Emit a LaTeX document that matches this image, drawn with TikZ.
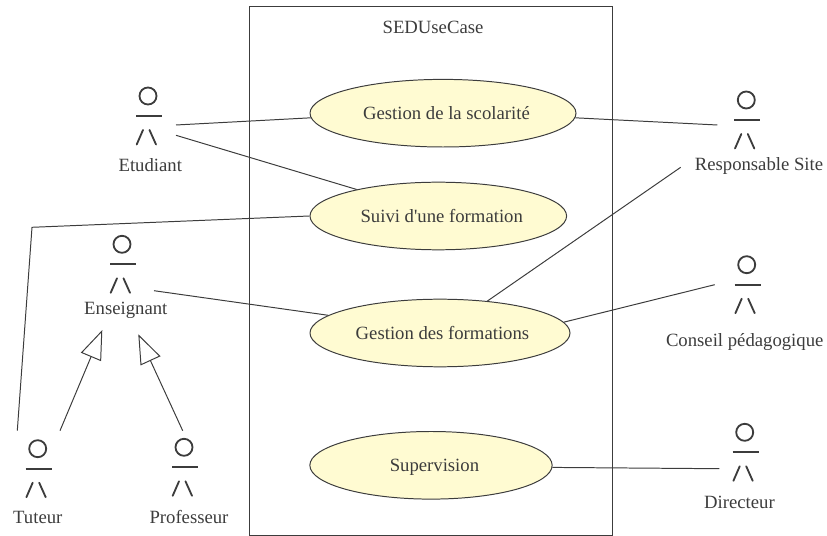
\documentclass[tikz,border=0pt]{standalone}
\usepackage{fontspec}
\setmainfont{Liberation Serif}
\usetikzlibrary{arrows.meta,shapes.geometric}
\definecolor{ink}{HTML}{3C3C3C}
\definecolor{usecase}{HTML}{FFFBD2}

\begin{document}
\begin{tikzpicture}[x=.025cm,y=-.025cm,ink,line width=.7pt,
  font=\fontsize{13.3}{15}\selectfont,
  use case/.style={ellipse,draw,fill=usecase,inner sep=0pt,minimum height=67.6*.025cm,
    text height=11.8pt,text depth=3pt},
  actor name/.style={inner sep=0pt,anchor=center},
  extends/.style={draw,-{Triangle[open,length=20.8pt,width=15.5pt,line width=.7pt]}},
  actor/.pic={
    \draw[line width=1.3pt] (0,0) circle [radius=8.5];
    \draw[line width=1.3pt] (-12,20) -- (14,20);
    \draw[line width=1.3pt,line cap=round] (-11.3,48.5) -- (-5,34);
    \draw[line width=1.3pt,line cap=round] (1.5,34) -- (8,48.5);
  }]

  \useasboundingbox (0,0) rectangle (827,536);

  \node[draw,inner sep=0pt,minimum width=363*.025cm,minimum height=528.6*.025cm,anchor=north west] (system) at (249.3,6.3) {};
  \node[inner sep=0pt] (title) at (433,27) {SEDUseCase};

  \node[use case,minimum width=266*.025cm] (scolarite) at (443,113.2) {\hspace*{7\pgflinewidth}Gestion de la scolarité};
  \node[use case,minimum width=256.6*.025cm] (suivi) at (438.3,216) {\hspace*{7\pgflinewidth}Suivi d\textquotesingle une formation};
  \node[use case,minimum width=260*.025cm] (formations) at (440,333) {\hspace*{5\pgflinewidth}Gestion des formations};
  \node[use case,minimum width=242.3*.025cm] (supervision) at (431,465.3) {\hspace*{7\pgflinewidth}Supervision};

  \pic at (148,96) {actor};
  \pic at (122,244.3) {actor};
  \pic at (37.7,448.7) {actor};
  \pic at (184,447.3) {actor};
  \pic at (746.3,100) {actor};
  \pic at (746.7,264.7) {actor};
  \pic at (744.7,432.3) {actor};

  \node[actor name] (etudiant) at (150.3,165) {Etudiant};
  \node[actor name] (enseignant) at (125.8,310) {Enseignant};
  \node[actor name] (tuteur) at (37.8,517) {Tuteur};
  \node[actor name] (professeur) at (189,517) {Professeur};
  \node[actor name] (responsable) at (759,166) {Responsable Site};
  \node[actor name] (conseil) at (744.7,342) {Conseil pédagogique};
  \node[actor name] (directeur) at (739.5,502) {Directeur};

  \coordinate (etudiant a) at (176,125);
  \coordinate (etudiant b) at (176,135.3);
  \coordinate (enseignant a) at (154,290.7);
  \coordinate (enseignant b) at (102.3,330);
  \coordinate (enseignant c) at (138.3,334.3);
  \coordinate (tuteur a) at (17.3,430.7);
  \coordinate (tuteur b) at (60,430.7);
  \coordinate (tuteur bend) at (32,227.3);
  \coordinate (professeur a) at (182.7,430.7);
  \coordinate (responsable a) at (717.3,125);
  \coordinate (responsable b) at (680.7,167.3);
  \coordinate (conseil a) at (714.7,284.7);
  \coordinate (directeur a) at (719.3,468.7);

  \path[draw]
    (etudiant a) edge (scolarite.182)
    (etudiant b) edge (suivi.162.5)
    (enseignant a) edge (formations.171.6)
    (scolarite.358) edge (responsable a)
    (formations.34.9) edge (responsable b)
    (formations.5.3) edge (conseil a)
    (supervision.359) edge (directeur a)
  ;
  \draw (suivi.180) -- (tuteur bend) -- (tuteur a);
  \draw[extends] (tuteur b) -- (enseignant b);
  \draw[extends] (professeur a) -- (enseignant c);
\end{tikzpicture}
\end{document}
